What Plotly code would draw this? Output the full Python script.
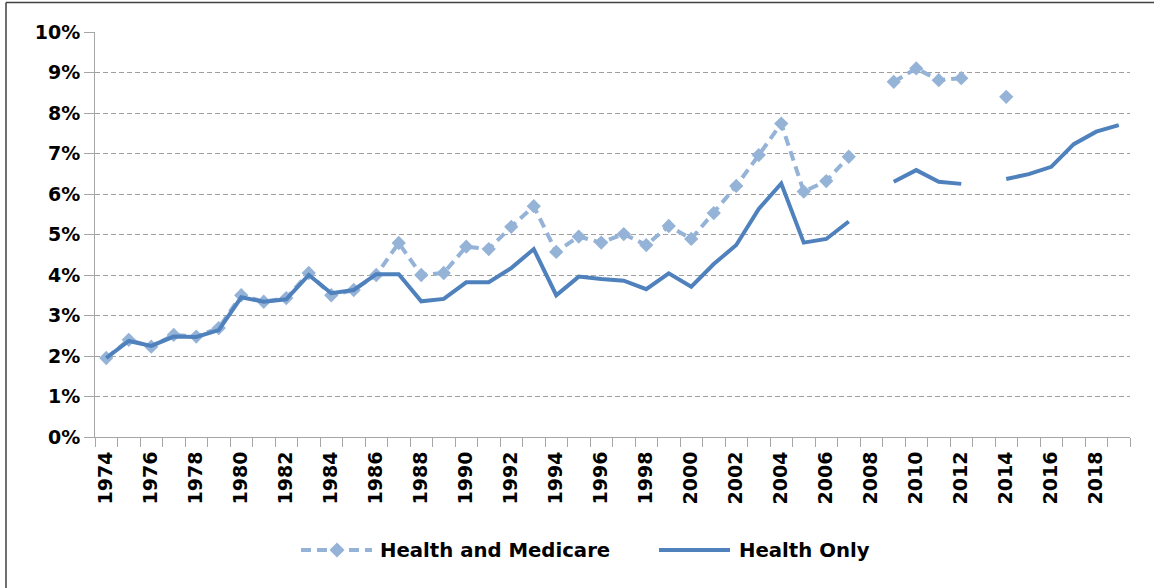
import plotly.graph_objects as go

years = list(range(1974, 2020))

health_and_medicare = [
    1.95, 2.40, 2.23, 2.52, 2.48, 2.69, 3.50, 3.34, 3.43, 4.05,
    3.50, 3.63, 4.00, 4.79, 4.00, 4.05, 4.70, 4.64, 5.19, 5.70,
    4.57, 4.95, 4.80, 5.01, 4.74, 5.21, 4.89, 5.53, 6.20, 6.96,
    7.74, 6.06, 6.32, 6.92, None, 8.77, 9.10, 8.81, 8.86, None,
    8.40, None, None, None, None, None,
]

health_only = [
    1.95, 2.37, 2.25, 2.48, 2.47, 2.64, 3.45, 3.34, 3.40, 4.00,
    3.55, 3.63, 4.02, 4.02, 3.35, 3.41, 3.82, 3.82, 4.17, 4.64,
    3.50, 3.96, 3.90, 3.86, 3.65, 4.04, 3.71, 4.27, 4.74, 5.63,
    6.26, 4.80, 4.89, 5.32, None, 6.30, 6.59, 6.30, 6.25, None,
    6.37, 6.49, 6.67, 7.23, 7.54, 7.70,
]

series_names = ["Health and Medicare", "Health Only"]
x_tick_years = list(range(1974, 2019, 2))
x_tick_text = [str(y) for y in x_tick_years]
y_tick_vals = list(range(0, 11))
y_tick_text = [f"{v}%" for v in y_tick_vals]

FONT = "DejaVu Sans"
HM_COLOR = "#95B3D7"
HO_COLOR = "#4F81BD"
AXIS_GRAY = "#A6A6A6"
HM_DASH = "10px,6px"

# figure geometry (pixels) used to place legend/frame in paper coordinates
W, H = 1154, 588
ML, MR, MT, MB = 95, 24, 32, 151
PW, PH = W - ML - MR, H - MT - MB


def px(xp):
    return (xp - ML) / PW


def py(yp):
    return (H - MB - yp) / PH


fig = go.Figure()
fig.add_trace(go.Scatter(
    x=years, y=health_and_medicare, name=series_names[0],
    mode="lines+markers", connectgaps=False,
    line=dict(color=HM_COLOR, width=4, dash=HM_DASH),
    marker=dict(symbol="diamond", size=11, color=HM_COLOR),
    showlegend=False,
))
fig.add_trace(go.Scatter(
    x=years, y=health_only, name=series_names[1],
    mode="lines", connectgaps=False,
    line=dict(color=HO_COLOR, width=4),
    showlegend=False,
))

# chart frame (left and top edges)
fig.add_shape(type="line", xref="paper", yref="paper",
              x0=px(6), x1=px(6), y0=py(2.5), y1=py(600),
              line=dict(color="#404040", width=1.5))
fig.add_shape(type="line", xref="paper", yref="paper",
              x0=px(6), x1=px(1160), y0=py(2.5), y1=py(2.5),
              line=dict(color="#404040", width=1.5))

# legend (drawn manually to match the long sample lines)
LEG_Y = 550
fig.add_shape(type="line", xref="paper", yref="paper",
              x0=px(301), x1=px(372), y0=py(LEG_Y), y1=py(LEG_Y),
              line=dict(color=HM_COLOR, width=4, dash=HM_DASH))
d = 7.5
cx = 337
fig.add_shape(type="path", xref="paper", yref="paper",
              path=(f"M {px(cx - d)},{py(LEG_Y)} L {px(cx)},{py(LEG_Y - d)} "
                    f"L {px(cx + d)},{py(LEG_Y)} L {px(cx)},{py(LEG_Y + d)} Z"),
              fillcolor=HM_COLOR, line=dict(width=0))
fig.add_shape(type="line", xref="paper", yref="paper",
              x0=px(659), x1=px(730), y0=py(LEG_Y), y1=py(LEG_Y),
              line=dict(color=HO_COLOR, width=4))
for name, xstart in zip(series_names, [378, 737]):
    fig.add_annotation(x=px(xstart), y=py(LEG_Y), xref="paper", yref="paper",
                       text=name, showarrow=False, xanchor="left", yanchor="middle",
                       font=dict(family=FONT, size=19.7, color="black", weight="bold"))

fig.update_layout(
    width=W, height=H,
    margin=dict(l=ML, r=MR, t=MT, b=MB),
    paper_bgcolor="white", plot_bgcolor="white",
    font=dict(family=FONT, size=19, color="black"),
    showlegend=False,
    hovermode=False,
    xaxis=dict(
        range=[1973.5, 2019.5],
        tickmode="array", tickvals=x_tick_years, ticktext=x_tick_text,
        tickangle=-90, ticks="", ticklabelstandoff=6,
        tickfont=dict(family=FONT, size=19, color="black", weight="bold"),
        showline=True, linecolor=AXIS_GRAY, linewidth=1,
        showgrid=False, zeroline=False,
        minor=dict(tick0=1973.5, dtick=1, ticks="outside", ticklen=9,
                   tickcolor=AXIS_GRAY, tickwidth=1, showgrid=False),
    ),
    yaxis=dict(
        range=[0, 10],
        tickmode="array", tickvals=y_tick_vals, ticktext=y_tick_text,
        ticks="outside", ticklen=10, tickcolor=AXIS_GRAY,
        tickfont=dict(family=FONT, size=19, color="black", weight="bold"),
        showline=True, linecolor=AXIS_GRAY, linewidth=1,
        showgrid=True, gridcolor="#A0A0A0", gridwidth=1, griddash="5px,3px",
        zeroline=False,
    ),
)

fig.write_html("out.html",
               config={"displayModeBar": False, "staticPlot": True},
               post_script="document.body.style.margin='0';document.body.style.overflow='hidden';")
